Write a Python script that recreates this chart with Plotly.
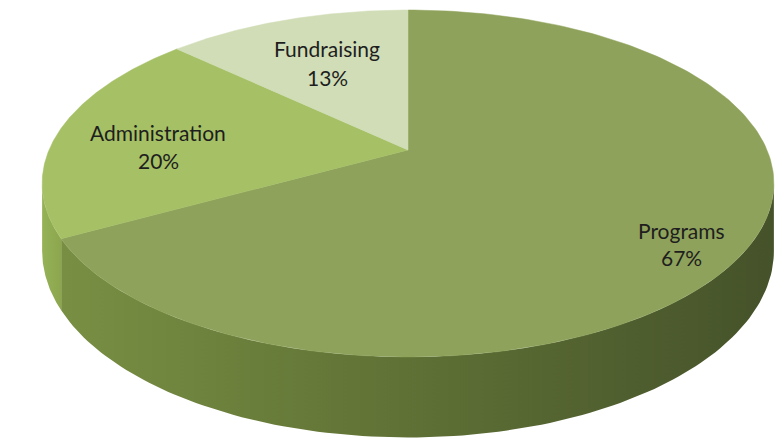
import numpy as np
import plotly.graph_objects as go

# ---- data ----
labels = ["Programs", "Administration", "Fundraising"]
values = [67, 20, 13]

# ---- style ----
top_colors = ["#8fa25b", "#a5c065", "#d0ddb6"]
side_colors = [
    [[0, "#788f43"], [0.45, "#617336"], [1, "#45522a"]],
    [[0, "#96b257"], [1, "#8ba64d"]],
    [[0, "#c0cf9e"], [1, "#b8c894"]],
]
label_pos = [(681, 230, 257), (158, 132, 160), (327, 48, 77)]

# projection of the pie's top disk (perspective view)
CX, CY, A, B, K, H = 408.0, 150.0, 359.0, 167.0, 0.193, 65.0


def rim(theta_deg, r=1.0):
    t = np.radians(theta_deg)
    a, b = r * np.sin(t), r * np.cos(t)
    d = 1 + K * b
    return CX + A * a / d, CY - B * b / d, d


total = float(sum(values))
bounds = np.concatenate([[0], np.cumsum(values) / total * 360.0])
theta_r = np.degrees(np.arccos(-K))
theta_l = 360.0 - theta_r

fig = go.Figure()

# side walls
for i, lab in enumerate(labels):
    s, e = bounds[i], bounds[i + 1]
    lo, hi = max(s, theta_r), min(e, theta_l)
    if hi <= lo:
        continue
    th = np.linspace(lo, hi, 120)
    xt, yt, d = rim(th)
    yb = yt + H / d
    xs = np.concatenate([xt, xt[::-1]])
    ys = np.concatenate([yt, yb[::-1]])
    fig.add_trace(go.Scatter(
        x=xs, y=ys, mode="lines", fill="toself",
        line=dict(width=0, color=top_colors[i]),
        fillgradient=dict(type="horizontal", colorscale=side_colors[i]),
        hoverinfo="skip", showlegend=False))

# top faces
for i, lab in enumerate(labels):
    s, e = bounds[i], bounds[i + 1]
    th = np.linspace(s, e, 200)
    xt, yt, _ = rim(th)
    xs = np.concatenate([[CX], xt, [CX]])
    ys = np.concatenate([[CY], yt, [CY]])
    fig.add_trace(go.Scatter(
        x=xs, y=ys, mode="lines", fill="toself",
        fillcolor=top_colors[i], line=dict(width=0.5, color=top_colors[i]),
        name=lab, hoverinfo="skip", showlegend=False))

annotations = []
for i, lab in enumerate(labels):
    x, y1, y2 = label_pos[i]
    pct = f"{round(values[i] / total * 100)}%"
    for txt, yy in ((lab, y1), (pct, y2)):
        annotations.append(dict(
            x=x, y=yy, xref="x", yref="y", text=txt, showarrow=False,
            font=dict(family="Lato, Noto Sans, sans-serif", size=21, color="#1e1e1e"),
            xanchor="center", yanchor="middle"))

fig.update_layout(
    width=778, height=442, autosize=False,
    margin=dict(l=0, r=0, t=0, b=0),
    paper_bgcolor="white", plot_bgcolor="white",
    xaxis=dict(range=[0, 778], visible=False, fixedrange=True),
    yaxis=dict(range=[442, 0], visible=False, fixedrange=True),
    annotations=annotations,
    showlegend=False,
)

fig.write_html("out.html", config={"displayModeBar": False},
               post_script="document.body.style.margin='0';document.body.style.overflow='hidden';")
